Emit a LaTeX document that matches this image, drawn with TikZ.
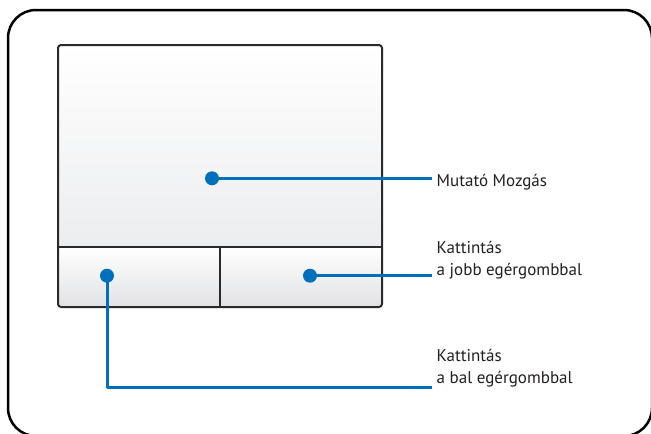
\documentclass[tikz,border=0pt]{standalone}
\usepackage{fontspec}
\setmainfont{PT Sans}
\definecolor{PadBlue}{HTML}{0070BA}
\definecolor{PadEdge}{HTML}{2B2A2A}
\definecolor{PadGrey}{HTML}{ECEDEF}
\definecolor{PadInk}{HTML}{231F20}
\usetikzlibrary{calc}

\begin{document}
\begin{tikzpicture}[x=1pt, y=-1pt, line join=round,
    dot/.style={circle, fill=PadBlue, inner sep=0pt, minimum size=14pt},
    lead/.style={PadBlue, line width=3pt},
    padtext/.style={inner sep=0pt, align=left, text=PadInk,
      font=\fontsize{17}{21.5}\selectfont}]
  \useasboundingbox (0,0) rectangle (651,434);
  % --- Frame ---
  \draw[line width=2.5pt, rounded corners=28pt] (8,10) rectangle (652,436);
  % --- Touchpad ---
  \shade[top color=white, middle color=white, bottom color=PadGrey]
    (58,45) rectangle (382,246.5);
  \shade[top color=white, bottom color=PadGrey!90!gray, rounded corners=3pt]
    (58,246.5) rectangle (382,307);
  \draw[PadEdge, line width=2pt, rounded corners=3pt] (58,45) rectangle (382,307);
  \draw[PadEdge, line width=2pt] (58,246.5) -- (382,246.5)
    (220,246.5) -- (220,307);
  % --- Pointers ---
  \node[dot] (move) at (212,178.3) {};
  \node[dot] (rightbtn) at (310,275.7) {};
  \node[dot] (leftbtn) at (107,275.7) {};
  \coordinate (moveend) at (432,178.3);
  \coordinate (rightend) at (432,275.7);
  \coordinate (leftend) at (432,387);
  \draw[lead] (move.center) -- (moveend);
  \draw[lead] (rightbtn.center) -- (rightend);
  \draw[lead] (leftbtn.center) |- (leftend);
  % --- Labels ---
  \node[padtext, anchor=base west] (movetext) at (436.5,186) {Mutató Mozgás};
  \node[padtext, anchor=base west] (righttext) at (436.5,275)
    {Kattintás\\a jobb egérgombbal};
  \node[padtext, anchor=base west] (lefttext) at (436.5,383)
    {Kattintás\\a bal egérgombbal};
\end{tikzpicture}
\end{document}
